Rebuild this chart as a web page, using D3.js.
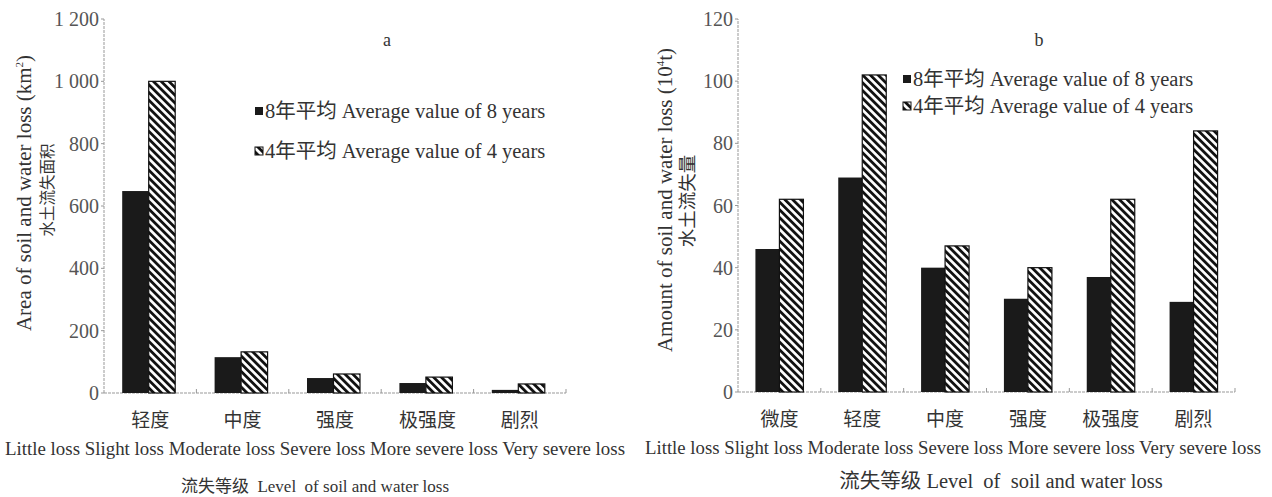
<!DOCTYPE html>
<html>
<head>
<meta charset="utf-8">
<script src="https://cdn.jsdelivr.net/npm/d3@7/dist/d3.min.js"></script>
<style>
  body { margin: 0; background: #fff; }
  text { font-family: "Liberation Serif", "Noto Sans CJK SC", serif; fill: #333; }
</style>
</head>
<body>
<div id="chart"></div>
<script>
// categories
const catsA = ["轻度", "中度", "强度", "极强度", "剧烈"];
const catsB = ["微度", "轻度", "中度", "强度", "极强度", "剧烈"];
const enLabels = "Little loss Slight loss Moderate loss Severe loss More severe loss Very severe loss";

// series values
const area8 = [648, 115, 48, 32, 10];
const area4 = [1000, 132, 61, 51, 29];
const amount8 = [46, 69, 40, 30, 37, 29];
const amount4 = [62, 102, 47, 40, 62, 84];

// tick labels
const ticksA = [0, 200, 400, 600, 800, 1000, 1200];
const ticksB = [0, 20, 40, 60, 80, 100, 120];

const legendNames = ["8年平均 Average value of 8 years", "4年平均 Average value of 4 years"];

const width = 1272, height = 497;

const svg = d3.select("#chart").append("svg")
  .attr("width", width)
  .attr("height", height);

// hatch pattern, stripes running top-left to bottom-right
const defs = svg.append("defs");
defs.append("pattern")
  .attr("id", "hatch")
  .attr("patternUnits", "userSpaceOnUse")
  .attr("width", 5.5).attr("height", 5.5)
  .attr("patternTransform", "rotate(-45)")
  .call(p => {
    p.append("rect").attr("width", 5.5).attr("height", 5.5).attr("fill", "#fff");
    p.append("rect").attr("width", 2.8).attr("height", 5.5).attr("fill", "#111");
  });

function tickFmt(d) {
  return d >= 1000 ? String(d).replace(/(\d)(\d{3})$/, "$1 $2") : String(d);
}

function panel(opt) {
  const g = svg.append("g");
  const x = d3.scaleBand().domain(opt.cats).range([opt.x0, opt.x1]);
  const y = d3.scaleLinear().domain([0, opt.max]).range([opt.y0, opt.y1]);
  const bw = opt.barW;

  // axes (thin grey dashed)
  g.append("line")
    .attr("x1", opt.x0).attr("x2", opt.x0)
    .attr("y1", opt.y0).attr("y2", opt.y1)
    .attr("stroke", "#999").attr("stroke-dasharray", "3,1");
  g.append("line")
    .attr("x1", opt.x0).attr("x2", opt.x1)
    .attr("y1", opt.y0).attr("y2", opt.y0)
    .attr("stroke", "#999").attr("stroke-dasharray", "3,1");

  // y ticks
  g.selectAll(".yt").data(opt.ticks).enter().append("line")
    .attr("x1", opt.x0 - 3).attr("x2", opt.x0)
    .attr("y1", d => y(d)).attr("y2", d => y(d))
    .attr("stroke", "#999");
  g.selectAll(".yl").data(opt.ticks).enter().append("text")
    .attr("x", opt.x0 - 5).attr("y", d => y(d))
    .attr("dy", "0.35em")
    .attr("text-anchor", "end")
    .attr("font-size", 20)
    .style("fill", "#555")
    .text(tickFmt);

  // x ticks between categories (pointing up)
  const bounds = opt.cats.map(c => x(c) + x.bandwidth());
  g.selectAll(".xt").data(bounds).enter().append("line")
    .attr("x1", d => d).attr("x2", d => d)
    .attr("y1", opt.y0).attr("y2", opt.y0 - 4)
    .attr("stroke", "#999");

  // bars
  const cx = c => x(c) + x.bandwidth() / 2 + opt.shift;
  g.selectAll(".b8").data(opt.cats).enter().append("rect")
    .attr("x", c => cx(c) - bw)
    .attr("y", (c, i) => y(opt.s8[i]))
    .attr("width", bw)
    .attr("height", (c, i) => opt.y0 - y(opt.s8[i]))
    .attr("fill", "#1a1a1a");
  g.selectAll(".b4").data(opt.cats).enter().append("rect")
    .attr("x", c => cx(c))
    .attr("y", (c, i) => y(opt.s4[i]))
    .attr("width", bw)
    .attr("height", (c, i) => opt.y0 - y(opt.s4[i]))
    .attr("fill", "url(#hatch)")
    .attr("stroke", "#111").attr("stroke-width", 1.2);

  // category labels
  g.selectAll(".cl").data(opt.cats).enter().append("text")
    .attr("x", c => x(c) + x.bandwidth() / 2)
    .attr("y", opt.y0 + 34)
    .attr("text-anchor", "middle")
    .attr("font-size", 19)
    .text(c => c);

  // english labels line
  g.append("text")
    .attr("x", opt.enX).attr("y", opt.y0 + 62)
    .attr("font-size", 18)
    .attr("textLength", opt.enW)
    .attr("lengthAdjust", "spacingAndGlyphs")
    .text(enLabels);

  // x title
  g.append("text")
    .attr("x", opt.xtX).attr("y", opt.xtY)
    .attr("text-anchor", "middle")
    .attr("font-size", opt.xtSize)
    .attr("xml:space", "preserve")
    .text(opt.xTitle);

  // y titles
  const yt = g.append("text")
    .attr("transform", `translate(${opt.ytX},${opt.ytY}) rotate(-90)`)
    .attr("text-anchor", "middle")
    .attr("font-size", opt.ytSize);
  yt.append("tspan").text(opt.yTitle);
  yt.append("tspan").attr("font-size", 11).attr("dy", -8).text(opt.sup);
  yt.append("tspan").attr("dy", 8).text(opt.yTitleEnd);
  g.append("text")
    .attr("transform", `translate(${opt.ytX2},${opt.ytY2}) rotate(-90)`)
    .attr("text-anchor", "middle")
    .attr("font-size", opt.ytCnSize)
    .text(opt.yTitleCn);

  // panel letter
  g.append("text")
    .attr("x", opt.letterX).attr("y", 46)
    .attr("text-anchor", "middle")
    .attr("font-size", 18)
    .text(opt.letter);

  // legend
  legendNames.forEach((name, i) => {
    const ly = opt.legY + i * opt.legGap;
    g.append("rect")
      .attr("x", opt.legX).attr("y", ly - 11)
      .attr("width", 8).attr("height", 8)
      .attr("fill", i === 0 ? "#1a1a1a" : "url(#hatch)")
      .attr("stroke", "#111").attr("stroke-width", i === 0 ? 0 : 1);
    g.append("text")
      .attr("x", opt.legX + 10).attr("y", ly)
      .attr("font-size", 20.5)
      .text(name);
  });
}

panel({
  cats: catsA, s8: area8, s4: area4, ticks: ticksA, max: 1200,
  x0: 104, x1: 566, y0: 393, y1: 19, barW: 26.5, shift: -1.5,
  enX: 5, enW: 620, xtX: 315, xtY: 492, xtSize: 17,
  xTitle: "流失等级  Level  of soil and water loss",
  yTitle: "Area of soil and water loss (km", sup: "2", yTitleEnd: ")",
  ytSize: 21, ytCnSize: 15.5,
  yTitleCn: "水土流失面积", ytX: 31, ytY: 193, ytX2: 53, ytY2: 190,
  letter: "a", letterX: 387,
  legX: 255, legY: 118, legGap: 40
});

panel({
  cats: catsB, s8: amount8, s4: amount4, ticks: ticksB, max: 120,
  x0: 738, x1: 1235, y0: 392, y1: 19, barW: 24, shift: 0,
  enX: 645, enW: 616, xtX: 1001, xtY: 488, xtSize: 20.5,
  xTitle: "流失等级 Level  of  soil and water loss",
  yTitle: "Amount of soil and water loss (10", sup: "4", yTitleEnd: "t)",
  ytSize: 21, ytCnSize: 18.5,
  yTitleCn: "水土流失量", ytX: 672, ytY: 200, ytX2: 694, ytY2: 201,
  letter: "b", letterX: 1039,
  legX: 903, legY: 86, legGap: 27
});
</script>
</body>
</html>
